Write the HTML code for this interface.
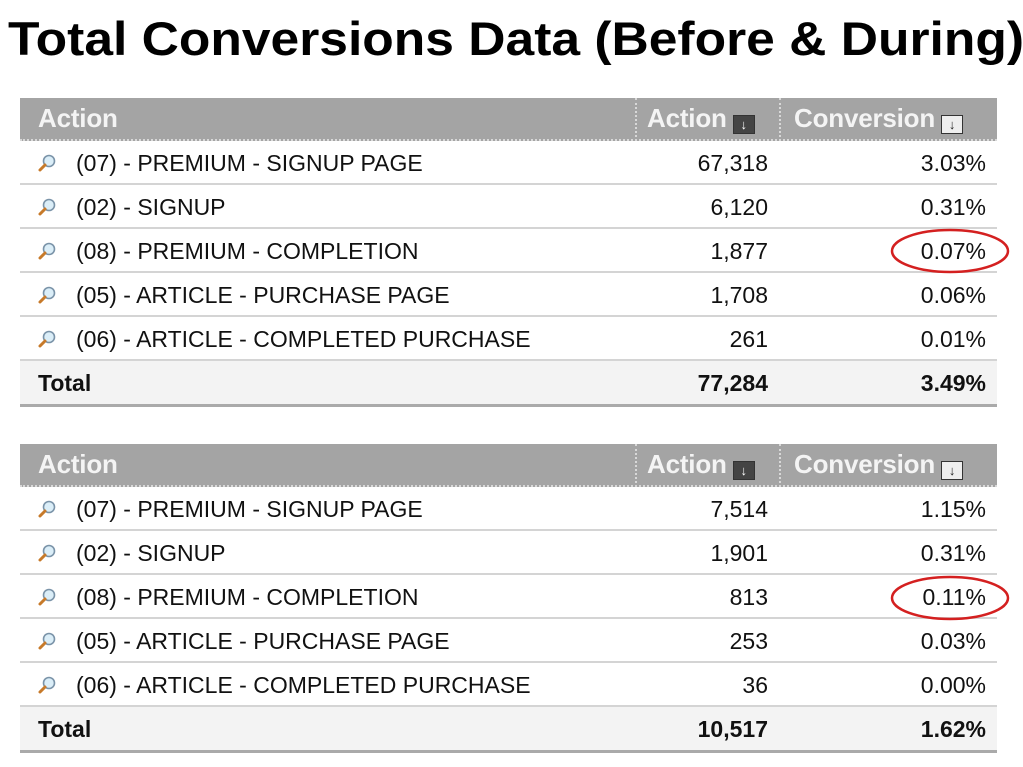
<!DOCTYPE html>
<html><head><meta charset="utf-8">
<style>
body{margin:0;width:1023px;height:767px;background:#fff;position:relative;overflow:hidden;font-family:"Liberation Sans",Arial,sans-serif;}
.title{position:absolute;left:8px;top:11px;font-size:47px;font-weight:bold;color:#000;white-space:nowrap;transform:scaleX(1.097);transform-origin:left top}
.tbl{position:absolute;left:20px;width:977px}
.hdr{position:absolute;left:0;top:0;width:977px;height:43px;background:#a4a4a4;border-bottom:2px dotted #d8d8d8;box-sizing:border-box}
.hc{position:absolute;top:5px;font-size:26px;font-weight:bold;color:#f4f4f4;white-space:nowrap;letter-spacing:-0.2px}
.sep{position:absolute;top:0;height:43px;border-left:2px dotted #d8d8d8}
.btn{display:inline-block;width:22px;height:19px;vertical-align:-2px;margin-left:6px;border:1px solid #333;box-sizing:border-box;font-size:13px;line-height:17px;text-align:center;color:#fff}
.row{position:absolute;left:0;width:977px;height:44px;border-bottom:2px solid #d4d4d4;box-sizing:border-box;font-size:23px;color:#111}
.row span{position:absolute;top:9px;white-space:nowrap}
.tot{background:#f3f3f3;border-bottom:3px solid #aaa;font-weight:bold}
.ico{position:absolute;left:17px;top:12px;width:20px;height:20px}
</style></head><body>
<div class="title">Total Conversions Data (Before &amp; During)</div>
<div id="t1" class="tbl" style="top:98px"></div>
<div id="t2" class="tbl" style="top:444px"></div>
<svg width="1023" height="767" style="position:absolute;left:0;top:0;pointer-events:none">
<ellipse cx="950" cy="251" rx="58" ry="21" fill="none" stroke="#d42020" stroke-width="2.5"/>
<ellipse cx="950" cy="598" rx="58" ry="21" fill="none" stroke="#d42020" stroke-width="2.5"/>
</svg>
<script>
const labels=["(07) - PREMIUM - SIGNUP PAGE","(02) - SIGNUP","(08) - PREMIUM - COMPLETION","(05) - ARTICLE - PURCHASE PAGE","(06) - ARTICLE - COMPLETED PURCHASE"];
const beforeActions=["67,318","6,120","1,877","1,708","261"];
const beforeConv=["3.03%","0.31%","0.07%","0.06%","0.01%"];
const beforeTotal=["77,284","3.49%"];
const duringActions=["7,514","1,901","813","253","36"];
const duringConv=["1.15%","0.31%","0.11%","0.03%","0.00%"];
const duringTotal=["10,517","1.62%"];
const icon='<svg class="ico" viewBox="0 0 20 20"><circle cx="12" cy="8" r="5.5" fill="#dbeef8" stroke="#7a93a8" stroke-width="1.6"/><line x1="8" y1="12" x2="3" y2="17" stroke="#c77a2a" stroke-width="3" stroke-linecap="round"/></svg>';
function build(id,acts,convs,tot){
  const t=document.getElementById(id);
  const h=document.createElement('div');h.className='hdr';
  
  
  h.innerHTML='<span class="hc" style="left:18px">Action</span><div class="sep" style="left:615px"></div><span class="hc" style="left:627px">Action<span class="btn" style="background:#444">&#8595;</span></span><div class="sep" style="left:759px"></div><span class="hc" style="left:774px">Conversion<span class="btn" style="background:#eee;color:#222">&#8595;</span></span>';
  t.appendChild(h);
  for(let i=0;i<labels.length;i++){
    const r=document.createElement('div');r.className='row';r.style.top=(43+i*44)+'px';
    
    
    r.innerHTML=icon+'<span style="left:56px">'+labels[i]+'</span><span style="right:229px">'+acts[i]+'</span><span style="right:11px">'+convs[i]+'</span>';
    t.appendChild(r);
  }
  const r=document.createElement('div');r.className='row tot';r.style.top=(43+5*44)+'px';r.style.height='46px';
  
  
  r.innerHTML='<span style="left:18px">Total</span><span style="right:229px">'+tot[0]+'</span><span style="right:11px">'+tot[1]+'</span>';
  t.appendChild(r);
}
build('t1',beforeActions,beforeConv,beforeTotal);
build('t2',duringActions,duringConv,duringTotal);
</script>
</body></html>
